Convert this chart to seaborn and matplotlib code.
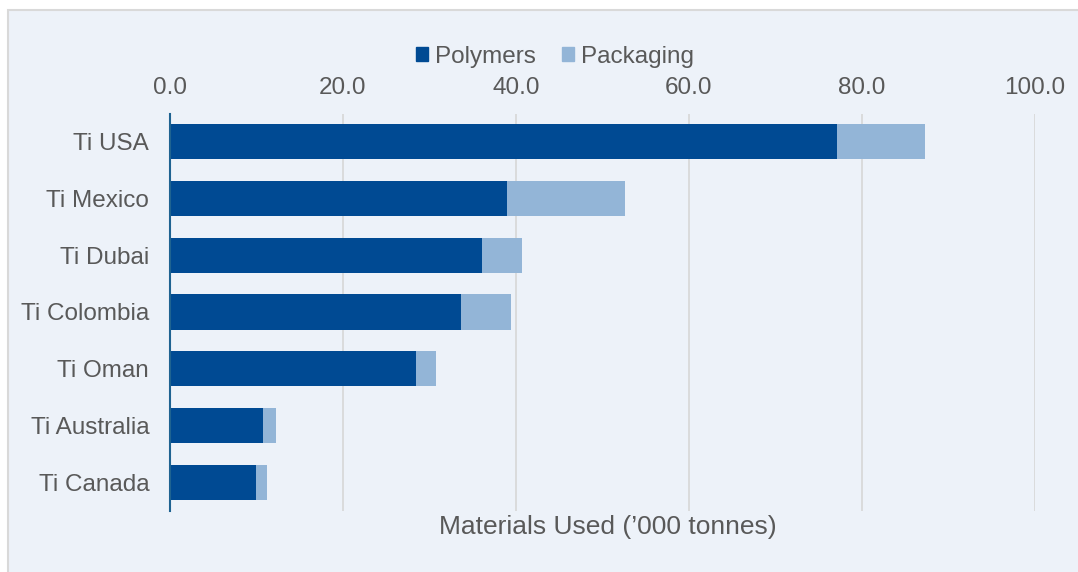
import matplotlib
matplotlib.use("Agg")
import matplotlib.pyplot as plt
import matplotlib.patches as mpatches
import seaborn as sns
import pandas as pd

sites = ["Ti USA", "Ti Mexico", "Ti Dubai", "Ti Colombia", "Ti Oman", "Ti Australia", "Ti Canada"]
polymers = [77.1, 39.0, 36.1, 33.6, 28.4, 10.8, 9.9]
packaging = [10.2, 13.6, 4.6, 5.8, 2.4, 1.5, 1.3]
x_ticks = [0, 20, 40, 60, 80, 100]

df = pd.DataFrame({"site": sites, "Polymers": polymers, "Packaging": packaging})
df["total"] = df["Polymers"] + df["Packaging"]

sns.set_theme(style="white")
plt.rcParams["font.family"] = ["Liberation Sans", "DejaVu Sans"]

dark = "#004A93"
light = "#93B5D7"
bg = "#EDF2F9"
txt = "#595959"
fs = 17.5

fig = plt.figure(figsize=(10.78, 5.72), dpi=100)
fig.patch.set_facecolor("white")
fig.patches.append(mpatches.Rectangle((8/1078, -0.05), 1.1, 0.05 + 1 - 10/572,
                                      transform=fig.transFigure, facecolor=bg,
                                      edgecolor="#D9D9D9", linewidth=1.5, zorder=-10))
ax = fig.add_axes([170/1078, 1 - 510.5/572, (1035 - 170)/1078, (510.5 - 113.5)/572])
ax.set_facecolor("none")

sns.barplot(data=df, y="site", x="total", orient="h", color=light, saturation=1,
            width=0.62, ax=ax, label="Packaging", linewidth=0)
sns.barplot(data=df, y="site", x="Polymers", orient="h", color=dark, saturation=1,
            width=0.62, ax=ax, label="Polymers", linewidth=0)

ax.set_xlim(0, 100)
ax.set_xticks(x_ticks)
ax.set_xticklabels([f"{v:.1f}" for v in x_ticks])
ax.xaxis.tick_top()
ax.tick_params(axis="x", length=0, labelsize=fs, labelcolor=txt, pad=10.5)
ax.tick_params(axis="y", length=0, labelsize=fs, labelcolor=txt, pad=15)
ax.grid(axis="x", color="#D9D9D9", linewidth=1.3)
ax.set_axisbelow(True)
for s in ["top", "right", "bottom"]:
    ax.spines[s].set_visible(False)
ax.spines["left"].set_color("#1F6391")
ax.spines["left"].set_linewidth(1.5)
ax.set_ylabel("")
ax.set_xlabel("")
if ax.get_legend() is not None:
    ax.get_legend().remove()
fig.text(608/1078, 1 - 527/572, "Materials Used (\u2019000 tonnes)",
         ha="center", va="center", fontsize=19, color=txt)

handles = [mpatches.Patch(color=dark, label="Polymers"), mpatches.Patch(color=light, label="Packaging")]
fig.legend(handles=handles, loc="center", bbox_to_anchor=(555/1078, 1 - 57/572), ncol=2,
           frameon=False, fontsize=fs, handlelength=0.5, handleheight=0.5,
           handletextpad=0.3, columnspacing=1.05, labelcolor=txt)

fig.savefig("out.png", dpi=100)
